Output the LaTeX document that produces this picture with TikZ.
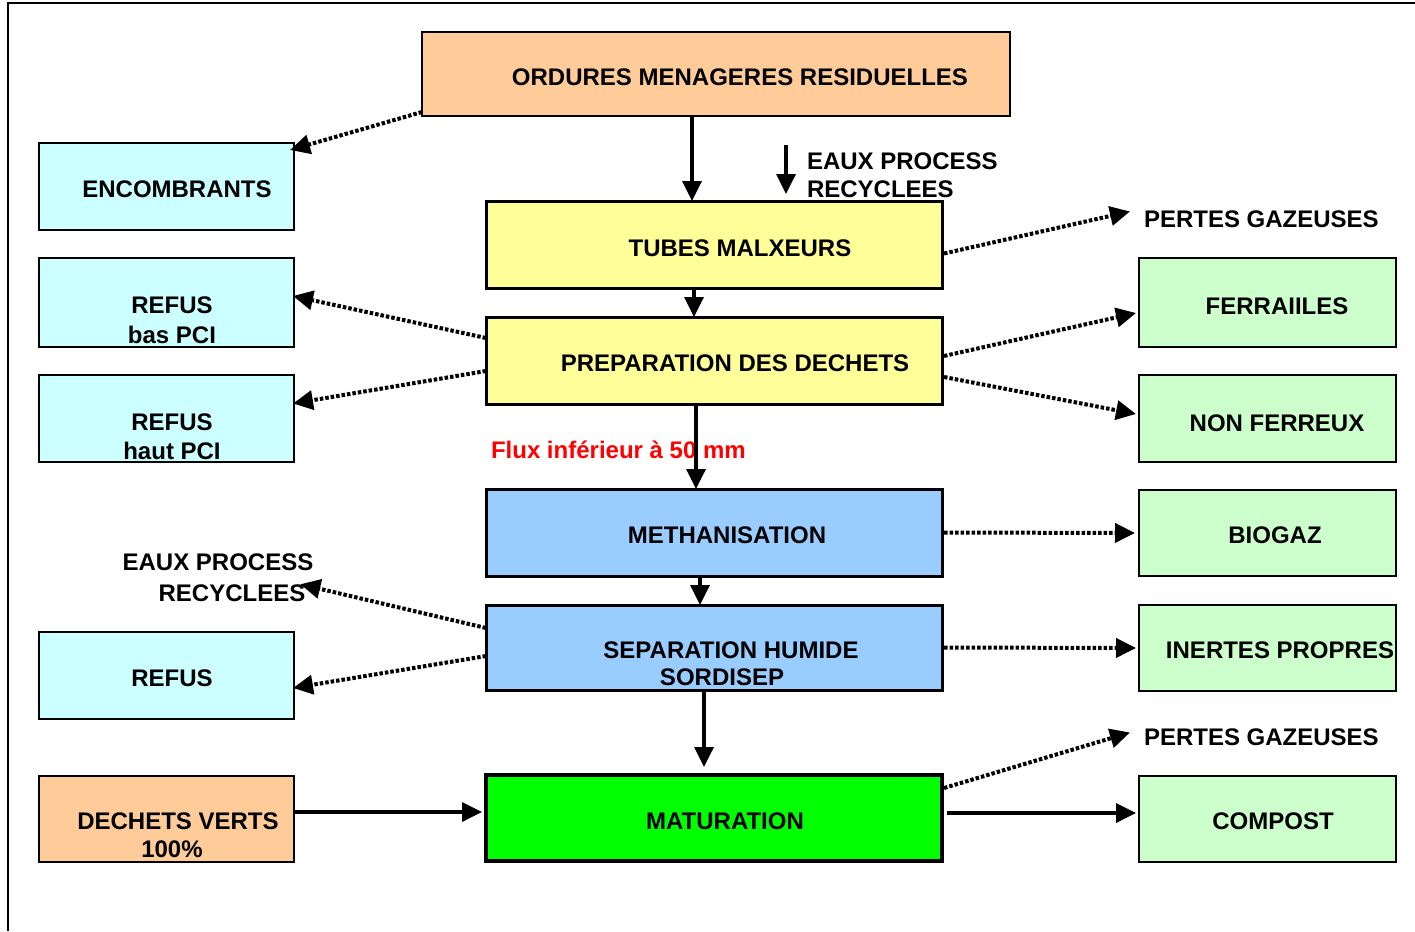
\documentclass[tikz,border=0pt]{standalone}
\usepackage{fontspec}
\setmainfont{Liberation Sans}
\usetikzlibrary{arrows.meta}
\definecolor{peach}{HTML}{FFCC99}
\definecolor{lcyan}{HTML}{CCFFFF}
\definecolor{lyellow}{HTML}{FFFF99}
\definecolor{lblue}{HTML}{99CCFF}
\definecolor{vgreen}{HTML}{00FF00}
\definecolor{lgreen}{HTML}{CCFFCC}
\tikzset{
  box/.style={draw=black, line width=2pt, inner sep=0pt, outer sep=0pt, rectangle},
  txt/.style={inner sep=0pt, outer sep=0pt, anchor=base, font=\bfseries\fontsize{24}{28}\selectfont},
  txtw/.style={txt, anchor=base west},
  tip/.style={-{Triangle[length=20pt,width=19pt]}},
  flow/.style={tip, line width=3.5pt},
  side/.style={tip, line width=4pt, dash pattern=on 3.5pt off 2pt},
}
\begin{document}
\begin{tikzpicture}[x=1pt,y=-1pt]
\useasboundingbox (0,0) rectangle (1415,931);
\fill[white] (0,0) rectangle (1415,931);
\coordinate (fr1) at (8,931);
\coordinate (fr2) at (8,3);
\coordinate (fr3) at (1415,3);
\draw[line width=2pt] (fr1) -- (fr2) -- (fr3);

% boxes
\node[box, fill=peach, line width=2.5pt, minimum width=588pt, minimum height=84pt] (ord) at (716,74) {};
\node[box, fill=lcyan, minimum width=255pt, minimum height=87pt] (enc) at (166.5,186.5) {};
\node[box, fill=lyellow, line width=3pt, minimum width=456pt, minimum height=87pt] (tub) at (714,244.5) {};
\node[box, fill=lcyan, minimum width=255pt, minimum height=89pt] (rbas) at (166.5,302.5) {};
\node[box, fill=lyellow, line width=3pt, minimum width=456pt, minimum height=87pt] (prep) at (714,360.5) {};
\node[box, fill=lcyan, minimum width=255pt, minimum height=87pt] (rhaut) at (166.5,418.5) {};
\node[box, fill=lblue, line width=3pt, minimum width=456pt, minimum height=87pt] (meth) at (714,532.5) {};
\node[box, fill=lblue, line width=3pt, minimum width=456pt, minimum height=85pt] (sep) at (714,647.5) {};
\node[box, fill=lcyan, minimum width=255pt, minimum height=87pt] (refus) at (166.5,675.5) {};
\node[box, fill=peach, minimum width=255pt, minimum height=86pt] (dv) at (166.5,819) {};
\node[box, fill=vgreen, line width=4pt, minimum width=456pt, minimum height=86pt] (mat) at (714,818) {};
\node[box, fill=lgreen, minimum width=257pt, minimum height=89pt] (ferr) at (1267.5,302.5) {};
\node[box, fill=lgreen, minimum width=257pt, minimum height=87pt] (nonf) at (1267.5,418.5) {};
\node[box, fill=lgreen, minimum width=257pt, minimum height=86pt] (bio) at (1267.5,533) {};
\node[box, fill=lgreen, minimum width=257pt, minimum height=86pt] (inert) at (1267.5,648) {};
\node[box, fill=lgreen, minimum width=257pt, minimum height=86pt] (comp) at (1267.5,819) {};

% texts
\node[txt] (tord) at (740,85.5) {ORDURES MENAGERES RESIDUELLES};
\node[txt] (tenc) at (177,197) {ENCOMBRANTS};
\node[txtw] (eaux1) at (807,169) {EAUX PROCESS};
\node[txtw] (eaux2) at (807,197) {RECYCLEES};
\node[txt] (ttub) at (740,256.5) {TUBES MALXEURS};
\node[txtw] (pg1) at (1144,227.5) {PERTES GAZEUSES};
\node[txt] (trbas1) at (172,313.5) {REFUS};
\node[txt] (trbas2) at (172,343.5) {bas PCI};
\node[txt] (tferr) at (1277,314.5) {FERRAIILES};
\node[txt] (tprep) at (735,371.5) {PREPARATION DES DECHETS};
\node[txt] (trhaut1) at (172,430.5) {REFUS};
\node[txt] (trhaut2) at (172,459) {haut PCI};
\node[txt] (tnonf) at (1277,431.5) {NON FERREUX};
\node[txtw, text=red] (flux) at (491,458.5) {Flux inférieur à 50 mm};
\node[txt] (tmeth) at (727,543.5) {METHANISATION};
\node[txt] (tbio) at (1275,543.5) {BIOGAZ};
\node[txt] (eauxL1) at (218,570.5) {EAUX PROCESS};
\node[txt] (eauxL2) at (232,601.5) {RECYCLEES};
\node[txt] (tsep1) at (731,658.5) {SEPARATION HUMIDE};
\node[txt] (tsep2) at (722,685.5) {SORDISEP};
\node[txt] (tinert) at (1280,658.5) {INERTES PROPRES};
\node[txt] (trefus) at (172,686.5) {REFUS};
\node[txtw] (pg2) at (1144,745.5) {PERTES GAZEUSES};
\node[txt] (tdv1) at (178,829.5) {DECHETS VERTS};
\node[txt] (tdv2) at (172,857.5) {100\%};
\node[txt] (tmat) at (725,829.5) {MATURATION};
\node[txt] (tcomp) at (1273,829.5) {COMPOST};

% connectors
\coordinate (e1) at (786,145);
\coordinate (e2) at (786,194);
\draw[flow] ([xshift=-24pt]ord.south) -- ([xshift=-22pt]tub.north);
\draw[flow] (e1) -- (e2);
\draw[side] ([yshift=4pt]ord.south west) -- ([xshift=-4pt,yshift=-7pt]enc.north east);
\draw[side] ([xshift=2pt,yshift=-9pt]tub.east) -- ([xshift=-14pt,yshift=16pt]pg1.base west);
\draw[flow] ([xshift=-20pt]tub.south) -- ([xshift=-20pt]prep.north);
\draw[side] ([yshift=22.5pt]prep.west) -- ([xshift=-1pt,yshift=6.5pt]rbas.east);
\draw[side] ([yshift=-10.5pt]prep.west) -- ([xshift=-1pt,yshift=15pt]rhaut.east);
\draw[side] ([xshift=2pt,yshift=4.5pt]prep.east) -- ([xshift=-3pt,yshift=-10.5pt]ferr.west);
\draw[side] ([xshift=2pt,yshift=-16.5pt]prep.east) -- ([xshift=-3pt,yshift=4.5pt]nonf.west);
\draw[flow] ([xshift=-18pt]prep.south) -- ([xshift=-18pt]meth.north);
\draw[side] ([xshift=2pt]meth.east) -- ([xshift=-4pt]bio.west);
\draw[flow] ([xshift=-14pt]meth.south) -- ([xshift=-14pt]sep.north);
\draw[side] ([yshift=19.5pt]sep.west) -- ([xshift=-5pt,yshift=9pt]eauxL2.east);
\draw[side] ([yshift=-8.5pt]sep.west) -- ([xshift=-1pt,yshift=-12.5pt]refus.east);
\draw[side] ([xshift=2pt]sep.east) -- ([xshift=-3pt]inert.west);
\draw[flow] ([xshift=-10pt]sep.south) -- ([xshift=-10pt,yshift=8pt]mat.north);
\draw[flow] ([yshift=7pt]dv.east) -- ([xshift=-4pt,yshift=6pt]mat.west);
\draw[flow] ([xshift=5pt,yshift=5pt]mat.east) -- ([xshift=-3pt,yshift=6pt]comp.west);
\draw[side] ([xshift=2pt,yshift=30pt]mat.east) -- ([xshift=-14pt,yshift=13pt]pg2.base west);
\end{tikzpicture}
\end{document}
